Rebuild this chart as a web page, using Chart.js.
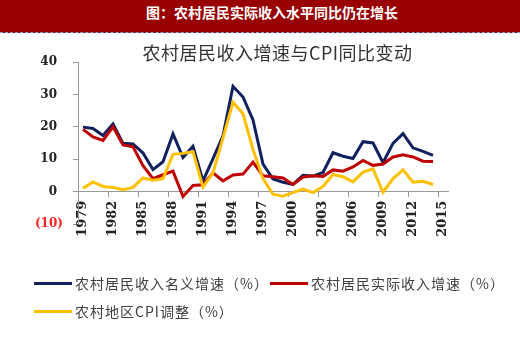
<!DOCTYPE html>
<html><head><meta charset="utf-8">
<script src="https://cdn.jsdelivr.net/npm/chart.js@4.4.1/dist/chart.umd.min.js"></script>
<style>
html,body{margin:0;padding:0;background:#fff;}
#wrap{position:relative;width:520px;height:340px;overflow:hidden;font-family:"Noto Sans CJK SC",sans-serif;}
#banner{position:absolute;left:0;top:0;width:520px;height:32px;background:#990000;border-bottom:1px dashed #8a9ccc;color:#fff;font-weight:bold;font-size:14px;line-height:24px;text-align:center;text-indent:24px;}
#title{position:absolute;left:0;top:39px;width:555px;text-align:center;font-size:18px;letter-spacing:0.5px;line-height:26px;color:#333;}
#c{position:absolute;left:0;top:0;}
.lg{position:absolute;font-size:14px;letter-spacing:1px;line-height:20px;color:#404040;white-space:nowrap;}
.sw{position:absolute;width:38px;height:3px;}
</style></head>
<body><div id="wrap">
<canvas id="c" width="520" height="340"></canvas>
<div id="banner">图：农村居民实际收入水平同比仍在增长</div>
<div id="title">农村居民收入增速与CPI同比变动</div>
<div id="legend"></div>
</div>
<script>
const years = [];
for (let y = 1979; y <= 2015; y++) years.push(String(y));
const seriesNames = ['农村居民收入名义增速（%）', '农村居民实际收入增速（%）', '农村地区CPI调整（%）'];
const nominalGrowth = [19.9,19.5,17.3,20.9,14.9,14.7,11.9,6.8,9.2,17.8,10.5,14.0,3.3,10.2,17.2,32.5,29.2,22.1,8.5,3.9,2.9,2.2,5.0,4.8,5.9,12.0,10.9,10.2,15.4,15.0,8.9,14.9,17.9,13.5,12.4,11.2,null];
const realGrowth = [19.2,16.9,15.8,20.0,14.4,13.8,8.0,4.0,5.2,6.3,-1.5,1.9,2.1,5.8,3.3,5.1,5.4,9.1,4.9,4.6,4.2,2.2,4.5,4.9,4.7,6.7,6.3,7.6,9.6,8.1,8.5,10.7,11.4,10.7,9.4,9.3,null];
const ruralCPI = [1.0,3.0,1.6,1.3,0.6,1.3,4.2,3.5,4.0,11.5,11.8,12.3,1.4,5.8,16.6,27.6,24.0,13.0,4.0,-0.8,-1.4,-0.3,0.8,-0.3,1.6,5.3,4.6,3.0,6.0,7.0,-0.2,4.0,6.7,2.9,3.2,2.2,null];
const colors = ['#10215e', '#c00000', '#ffc000'];

const xTickFont = {family: '"DejaVu Serif", serif', size: 13, weight: 'bold'};
const yTickFont = {family: '"DejaVu Serif", serif', size: 12, weight: 'bold'};
const transparent = 'rgba(0,0,0,0)';

new Chart(document.getElementById('c'), {
  type: 'line',
  data: {
    labels: years,
    datasets: [
      {label: seriesNames[0], data: nominalGrowth, borderColor: colors[0], order: 2},
      {label: seriesNames[1], data: realGrowth, borderColor: colors[1], order: 1},
      {label: seriesNames[2], data: ruralCPI, borderColor: colors[2], order: 0}
    ].map(d => Object.assign(d, {borderWidth: 3, pointRadius: 0, tension: 0, fill: false, spanGaps: false}))
  },
  options: {
    responsive: false,
    animation: false,
    layout: {padding: {left: 0, top: 62, right: 72, bottom: 116}},
    plugins: {legend: {display: false}, tooltip: {enabled: false}, title: {display: false}},
    scales: {
      x: {
        type: 'category',
        position: {y: 0},
        offset: true,
        grid: {
          offset: true, drawOnChartArea: false, tickLength: 5,
          color: ctx => (ctx.index % 3 === 0 ? '#999' : transparent)
        },
        border: {color: '#999', width: 1},
        ticks: {
          autoSkip: false, maxRotation: 90, minRotation: 90, padding: 4,
          font: xTickFont, color: '#222',
          callback: function(v, i) { return i % 3 === 0 ? this.getLabelForValue(v) : ''; }
        }
      },
      y: {
        min: -10, max: 40,
        afterFit: s => { s.width = 78; },
        grid: {drawOnChartArea: false, tickLength: 5, color: '#999'},
        border: {color: '#999', width: 1},
        ticks: {
          stepSize: 10, padding: 10, font: yTickFont,
          color: ctx => (ctx.tick && ctx.tick.value < 0 ? '#ff2020' : '#222'),
          callback: v => (v < 0 ? '(' + (-v) + ')' : v + '\u2002')
        }
      }
    }
  }
});

const legendPos = [[34, 283], [270, 283], [34, 311]];
const lg = document.getElementById('legend');
seriesNames.forEach((n, i) => {
  const [x, y] = legendPos[i];
  const sw = document.createElement('div');
  sw.className = 'sw';
  sw.style.left = x + 'px'; sw.style.top = (y - 1.5) + 'px'; sw.style.background = colors[i];
  lg.appendChild(sw);
  const t = document.createElement('div');
  t.className = 'lg';
  t.style.left = (x + 41) + 'px'; t.style.top = (y - 10) + 'px';
  t.textContent = n;
  lg.appendChild(t);
});
</script>
</body></html>
